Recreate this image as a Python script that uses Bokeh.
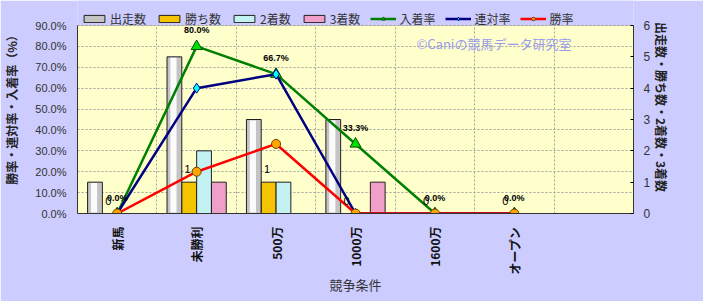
import math
from bokeh.plotting import figure
from bokeh.models import (Range1d, LinearAxis, FixedTicker, PrintfTickFormatter,
                          Legend, LegendItem, Label, BoxAnnotation)
from bokeh.embed import file_html
from bokeh.resources import INLINE
from bokeh.core.properties import value

# ---- data ----
categories = ["新馬", "未勝利", "500万", "1000万", "1600万", "オープン"]
n_slots = 7  # the category axis has one empty slot at the end
starts = [1, 5, 3, 3, 0, 0]        # 出走数
wins = [0, 1, 1, 0, 0, 0]          # 勝ち数
seconds = [0, 2, 1, 0, 0, 0]       # 2着数
thirds = [0, 1, 0, 1, 0, 0]        # 3着数
place_rate = [0.0, 80.0, 66.7, 33.3, 0.0, 0.0]   # 入着率
rentai_rate = [0.0, 60.0, 66.7, 0.0, 0.0, 0.0]   # 連対率
win_rate = [0.0, 20.0, 33.3, 0.0, 0.0, 0.0]      # 勝率
left_ticks = [0, 10, 20, 30, 40, 50, 60, 70, 80, 90]
right_ticks = [0, 1, 2, 3, 4, 5, 6]

JP = "Noto Sans CJK JP"
LAT = "Liberation Sans"

W, H = 703, 301
BORDER_B = 88
FRAME_H = H - BORDER_B          # frame spans from canvas top to the x axis
AREA_H = 188                    # visible plot area height (px)
stretch = FRAME_H / AREA_H      # extra room above the plot area for the legend
L_MAX, R_MAX = left_ticks[-1], right_ticks[-1]

xs = [i + 0.5 for i in range(len(categories))]
bw = 0.186
offs = [-0.28, -0.093, 0.093, 0.28]

p = figure(width=W, height=H, output_backend="svg", toolbar_location=None,
           x_range=Range1d(0, n_slots), y_range=Range1d(0, L_MAX * stretch),
           min_border_left=77, min_border_right=70, min_border_top=0,
           min_border_bottom=BORDER_B)
p.background_fill_color = "#ccccff"
p.border_fill_color = "#ccccff"
p.outline_line_color = None
p.extra_y_ranges = {"cnt": Range1d(0, R_MAX * stretch)}

# plot area (yellow) with border
p.add_layout(BoxAnnotation(left=0, right=n_slots, bottom=0, top=L_MAX,
                           fill_color="#ffffcc", fill_alpha=1,
                           line_color="#808080", line_width=1, level="image"))

# grids
p.xgrid.ticker = FixedTicker(ticks=list(range(1, n_slots)))
p.xgrid.cross_bounds = (0, L_MAX)
p.ygrid.ticker = FixedTicker(ticks=left_ticks[1:])
for g in (p.xgrid, p.ygrid):
    g.grid_line_color = "#a0a0a0"
    g.grid_line_dash = "2 2"
    g.grid_line_width = 1

# bars
bx = lambda k: [x + offs[k] for x in xs]
r_starts = p.vbar(x=bx(0), top=starts, width=bw, y_range_name="cnt",
                  fill_color="#c4c4c4", line_color="#202020", line_width=1)
p.vbar(x=[x + offs[0] - 0.012 for x in xs], top=[max(s - 0.03, 0) for s in starts],
       bottom=[0.03 if s > 0 else 0 for s in starts], width=bw * 0.42,
       y_range_name="cnt", fill_color="#fbfbfb", line_color=None)
r_wins = p.vbar(x=bx(1), top=wins, width=bw, y_range_name="cnt",
                fill_color="#f5c400", line_color="#202020", line_width=1)
r_sec = p.vbar(x=bx(2), top=seconds, width=bw, y_range_name="cnt",
               fill_color="#c4f2f2", line_color="#202020", line_width=1)
r_thr = p.vbar(x=bx(3), top=thirds, width=bw, y_range_name="cnt",
               fill_color="#f0a0c8", line_color="#202020", line_width=1)

# lines
l_place = p.line(xs, place_rate, line_color="#008000", line_width=2.5)
m_place = p.scatter(xs, place_rate, marker="triangle", size=11,
                    fill_color="#00e000", line_color="#005000", line_width=1)
l_ren = p.line(xs, rentai_rate, line_color="#000080", line_width=2.5)
m_ren = p.scatter(xs, rentai_rate, marker="diamond", size=10,
                  fill_color="#00ffff", line_color="#000080", line_width=1)
l_win = p.line(xs, win_rate, line_color="#ff0000", line_width=2.5)
m_win = p.scatter(xs, win_rate, marker="circle", size=9,
                  fill_color="#ffa500", line_color="#704000", line_width=1)

# data labels
p.text(x=xs, y=place_rate, text=[f"{v:.1f}%" for v in place_rate],
       text_align="center", text_baseline="middle", y_offset=-16,
       text_font=value(LAT), text_font_size="9px", text_font_style="bold",
       text_color="#000000")
p.text(x=[x + offs[1] - 0.02 for x in xs], y=wins, text=[str(w) for w in wins],
       y_range_name="cnt", text_align="center", text_baseline="middle",
       y_offset=-13, text_font=value(LAT), text_font_size="11px",
       text_color="#000000")

# watermark
p.add_layout(Label(x=339, y=170, x_units="screen", y_units="screen",
                   text="©Caniの競馬データ研究室", text_font=JP,
                   text_font_size="13px", text_color="#9a9aee",
                   text_baseline="middle"))

# axes
xa = p.xaxis[0]
xa.ticker = FixedTicker(ticks=xs)
xa.major_label_overrides = {x: c for x, c in zip(xs, categories)}
xa.major_label_orientation = math.pi / 2
xa.major_tick_line_color = None
xa.minor_tick_line_color = None
xa.axis_line_color = "#333333"
xa.major_label_text_font = JP
xa.major_label_text_font_size = "12px"
xa.major_label_text_font_style = "bold"
xa.major_label_text_color = "#111111"
xa.major_label_standoff = 7
xa.axis_label = "競争条件"
xa.axis_label_text_font = JP
xa.axis_label_text_font_size = "13px"
xa.axis_label_text_font_style = "normal"
xa.axis_label_text_color = "#333333"
xa.axis_label_standoff = -3

ya = p.yaxis[0]
ya.ticker = FixedTicker(ticks=left_ticks)
ya.bounds = (0, L_MAX)
ya.formatter = PrintfTickFormatter(format="%.1f%%")
ya.major_tick_in = 0
ya.major_tick_out = 0
ya.minor_tick_line_color = None
ya.axis_line_color = "#333333"
ya.major_label_text_font = LAT
ya.major_label_text_font_size = "11px"
ya.major_label_text_color = "#333333"
ya.major_label_standoff = 11
ya.axis_label = "勝率・連対率・入着率（%）"
ya.axis_label_text_font = JP
ya.axis_label_text_font_size = "12px"
ya.axis_label_text_font_style = "bold"
ya.axis_label_text_color = "#222222"
ya.axis_label_standoff = 12

yr = LinearAxis(y_range_name="cnt", ticker=FixedTicker(ticks=right_ticks),
                bounds=(0, R_MAX))
yr.major_tick_in = 3
yr.major_tick_out = 0
yr.minor_tick_line_color = None
yr.axis_line_color = "#333333"
yr.major_label_text_font = LAT
yr.major_label_text_font_size = "12px"
yr.major_label_text_color = "#333333"
yr.major_label_standoff = 10
yr.axis_label = "出走数・勝ち数・2着数・3着数"
yr.axis_label_text_font = JP
yr.axis_label_text_font_size = "12px"
yr.axis_label_text_font_style = "bold"
yr.axis_label_text_color = "#222222"
yr.axis_label_standoff = 0
p.add_layout(yr, "right")

# legend
legend = Legend(items=[
    LegendItem(label="出走数", renderers=[r_starts]),
    LegendItem(label="勝ち数", renderers=[r_wins]),
    LegendItem(label="2着数", renderers=[r_sec]),
    LegendItem(label="3着数", renderers=[r_thr]),
    LegendItem(label="入着率", renderers=[l_place, m_place]),
    LegendItem(label="連対率", renderers=[l_ren, m_ren]),
    LegendItem(label="勝率", renderers=[l_win, m_win]),
], location=(4, 186), orientation="horizontal", background_fill_alpha=0,
   border_line_color=None, padding=2, spacing=10, label_standoff=3,
   glyph_width=26, glyph_height=9, label_height=14, margin=0,
   label_text_font=JP, label_text_font_size="12px", label_text_color="#333333")
p.add_layout(legend)

open("out.html", "w").write(file_html(p, INLINE))
